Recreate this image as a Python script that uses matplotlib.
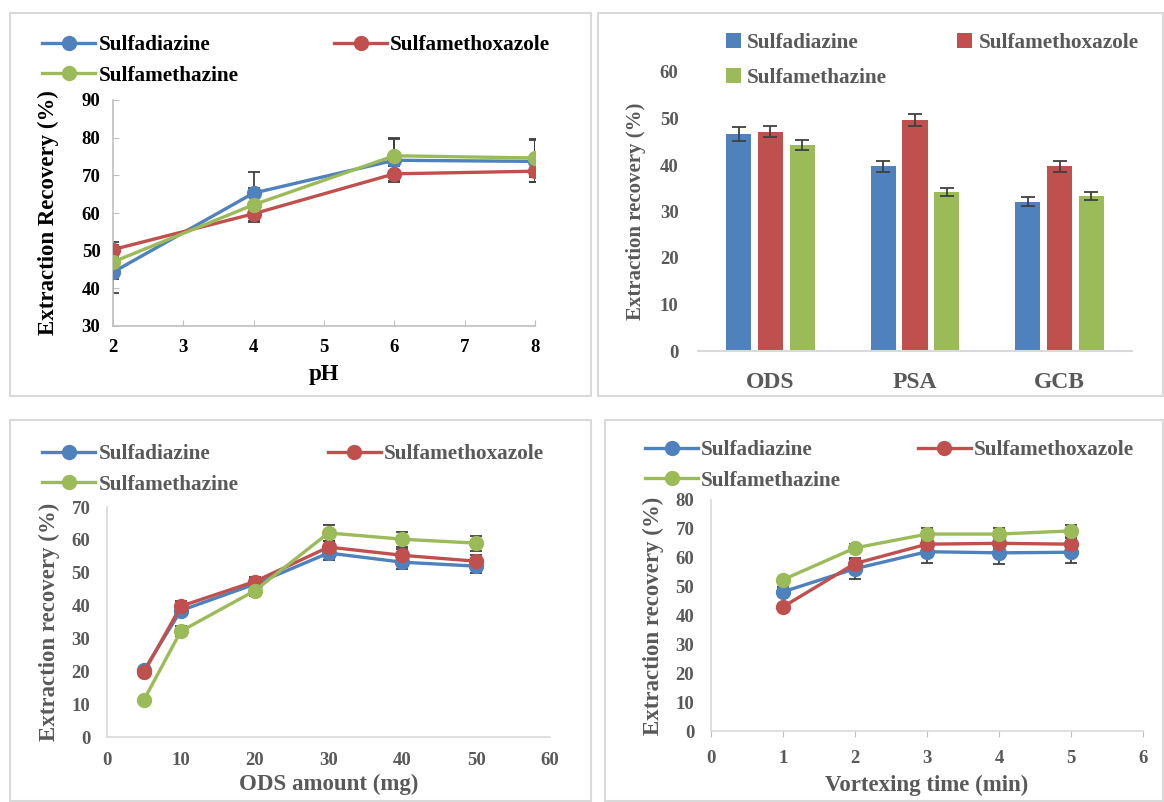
import matplotlib.pyplot as plt
from matplotlib.patches import Rectangle
import numpy as np

# ---- data ----
names = ["Sulfadiazine", "Sulfamethoxazole", "Sulfamethazine"]
colors = ["#4F81BD", "#C0504D", "#9BBB59"]

ph = [2, 4, 6, 8]
ph_sdz = [44.3, 65.3, 74.0, 73.7]
ph_smx = [50.3, 59.8, 70.4, 71.1]
ph_smz = [47.0, 62.2, 75.2, 74.6]
ph_sdz_err = [5.6, 5.7, 5.6, 5.6]
ph_smx_err = [2.0, 2.0, 2.1, 2.9]
ph_smz_err = [4.5, 4.5, 4.6, 5.0]

sorbents = ["ODS", "PSA", "GCB"]
bar_sdz = [46.7, 39.7, 32.1]
bar_smx = [47.2, 49.6, 39.7]
bar_smz = [44.3, 34.2, 33.3]
bar_sdz_err = [1.5, 1.2, 1.0]
bar_smx_err = [1.2, 1.3, 1.1]
bar_smz_err = [1.0, 0.8, 0.8]

ods = [5, 10, 20, 30, 40, 50]
ods_sdz = [20.3, 38.5, 46.5, 56.0, 53.2, 52.0]
ods_smx = [19.7, 39.8, 47.3, 57.8, 55.3, 53.5]
ods_smz = [11.3, 32.2, 44.5, 62.1, 60.2, 59.0]
ods_sdz_err = [1.0, 1.5, 1.5, 2.0, 2.0, 2.0]
ods_smx_err = [1.0, 1.5, 1.5, 2.0, 2.0, 2.0]
ods_smz_err = [1.0, 1.5, 1.5, 2.3, 2.3, 2.3]

vt = [1, 2, 3, 4, 5]
vt_sdz = [48.2, 56.2, 62.1, 61.7, 61.9]
vt_smx = [43.0, 58.0, 64.7, 65.0, 64.7]
vt_smz = [52.4, 63.4, 68.2, 68.2, 69.3]
vt_sdz_err = [1.5, 3.4, 3.8, 3.8, 3.8]
vt_smx_err = [1.0, 2.0, 2.0, 2.0, 2.0]
vt_smz_err = [1.0, 1.5, 2.0, 2.0, 2.0]

W, H = 1164, 802
fig = plt.figure(figsize=(W / 100, H / 100), dpi=100)
plt.rcParams['font.family'] = ['Liberation Serif', 'DejaVu Serif']
plt.rcParams['font.weight'] = 'bold'

LEG_FS = 15.3
TICK_FS = 13.5
LAB_FS = 16.5


def ax_at(left, top, right, bottom):
    """axes from pixel box"""
    return fig.add_axes([left / W, 1 - bottom / H, (right - left) / W, (bottom - top) / H])


def box(x0, y0, x1, y1):
    fig.add_artist(Rectangle((x0 / W, 1 - y1 / H), (x1 - x0) / W, (y1 - y0) / H,
                             transform=fig.transFigure, fill=False,
                             edgecolor="#d9d9d9", linewidth=1.5))


box(10, 13, 591, 396)
box(598, 13, 1163, 396)
box(10, 420, 591, 801)
box(605, 420, 1163, 801)


def line_panel(ax, x, ys, errs, tc):
    handles = []
    for y, e, c in zip(ys, errs, colors):
        ax.errorbar(x, y, yerr=e, fmt="none", ecolor="#404040", elinewidth=1.3,
                    capsize=4, capthick=1.3, zorder=2)
    for y, c, n in zip(ys, colors, names):
        h, = ax.plot(x, y, color=c, lw=2.4, marker="o", ms=10, label=n, zorder=3)
        handles.append(h)
    for s in ["top", "right"]:
        ax.spines[s].set_visible(False)
    for s in ["left", "bottom"]:
        ax.spines[s].set_color("#bfbfbf")
        ax.spines[s].set_linewidth(1.2)
    ax.tick_params(colors="#bfbfbf", labelcolor=tc, labelsize=TICK_FS)
    for lab in ax.get_xticklabels() + ax.get_yticklabels():
        lab.set_fontweight("bold")
    return handles


def add_legend(ax, handles, fx, fy, tc, colsp):
    leg = ax.legend([handles[0], handles[2], handles[1]],
                    [names[0], names[2], names[1]],
                    ncol=2, loc="upper left", bbox_to_anchor=(fx / W, 1 - fy / H),
                    bbox_transform=fig.transFigure, frameon=False,
                    prop={"weight": "bold", "size": LEG_FS}, handlelength=2.5,
                    handletextpad=0.15, columnspacing=colsp, labelspacing=0.5,
                    borderaxespad=0, borderpad=0)
    for t in leg.get_texts():
        t.set_color(tc)


# ---- panel 1: pH ----
ax1 = ax_at(113, 100, 535, 326)
h = line_panel(ax1, ph, [ph_sdz, ph_smx, ph_smz], [ph_sdz_err, ph_smx_err, ph_smz_err], "black")
ax1.set_xlim(2, 8)
ax1.set_ylim(30, 90)
ax1.set_xticks(range(2, 9))
ax1.set_yticks(range(30, 91, 10))
ax1.tick_params(direction="in", length=4, pad=9)
ax1.set_xlabel("pH", fontsize=LAB_FS, fontweight="bold", labelpad=6)
ax1.set_ylabel("Extraction Recovery (%)", fontsize=LAB_FS, fontweight="bold", labelpad=16)
add_legend(ax1, h, 42, 35, "black", 4.5)

# ---- panel 2: bars ----
ax2 = ax_at(698, 72, 1132, 351)
xc = np.arange(len(sorbents))
gray = "#595959"
bw, off = 0.175, 0.22
bh = []
for vals, errs, c, k in zip([bar_sdz, bar_smx, bar_smz], [bar_sdz_err, bar_smx_err, bar_smz_err],
                            colors, [-1, 0, 1]):
    b = ax2.bar(xc + k * off, vals, bw, color=c, yerr=errs,
                error_kw=dict(ecolor="#404040", elinewidth=1.3, capsize=5, capthick=1.3))
    bh.append(b)
ax2.set_xlim(-0.5, 2.5)
ax2.set_ylim(0, 60)
ax2.set_yticks(range(0, 61, 10))
ax2.set_xticks(xc)
ax2.set_xticklabels(sorbents, fontsize=17, fontweight="bold", color=gray)
for s in ["top", "right", "left"]:
    ax2.spines[s].set_visible(False)
ax2.spines["bottom"].set_color("#d9d9d9")
ax2.spines["bottom"].set_linewidth(1.5)
ax2.tick_params(length=0, labelcolor=gray, labelsize=TICK_FS)
ax2.tick_params(axis="x", pad=15, labelsize=17)
ax2.tick_params(axis="y", pad=14)
for lab in ax2.get_yticklabels():
    lab.set_fontweight("bold")
ax2.set_ylabel("Extraction recovery (%)", fontsize=15, fontweight="bold", color=gray, labelpad=10)
leg2 = ax2.legend([bh[0], bh[2], bh[1]], [names[0], names[2], names[1]], ncol=2,
                  loc="upper left", bbox_to_anchor=(726 / W, 1 - 33 / H),
                  bbox_transform=fig.transFigure, frameon=False,
                  prop={"weight": "bold", "size": LEG_FS}, handlelength=0.7, handleheight=0.7,
                  handletextpad=0.3, columnspacing=3.3, labelspacing=0.7,
                  borderaxespad=0, borderpad=0)
for t in leg2.get_texts():
    t.set_color(gray)

# ---- panel 3: ODS amount ----
ax3 = ax_at(107, 507, 550, 737)
h = line_panel(ax3, ods, [ods_sdz, ods_smx, ods_smz], [ods_sdz_err, ods_smx_err, ods_smz_err], gray)
ax3.set_xlim(0, 60)
ax3.set_ylim(0, 70)
ax3.set_xticks(range(0, 61, 10))
ax3.set_yticks(range(0, 71, 10))
ax3.tick_params(axis="x", length=0, pad=11)
ax3.tick_params(axis="y", length=0, pad=12)
ax3.spines["left"].set_color("#d9d9d9")
ax3.spines["bottom"].set_color("#d9d9d9")
ax3.set_xlabel("ODS amount (mg)", fontsize=LAB_FS, fontweight="bold", color=gray, labelpad=3)
ax3.set_ylabel("Extraction recovery (%)", fontsize=LAB_FS, fontweight="bold", color=gray, labelpad=8)
add_legend(ax3, h, 42, 444, gray, 4.2)

# ---- panel 4: vortexing time ----
ax4 = ax_at(711, 500, 1143, 731)
h = line_panel(ax4, vt, [vt_sdz, vt_smx, vt_smz], [vt_sdz_err, vt_smx_err, vt_smz_err], gray)
ax4.set_xlim(0, 6)
ax4.set_ylim(0, 80)
ax4.set_xticks(range(0, 7))
ax4.set_yticks(range(0, 81, 10))
ax4.tick_params(axis="x", direction="out", length=4, pad=10)
ax4.tick_params(axis="y", length=0, pad=12)
ax4.spines["left"].set_color("#d9d9d9")
ax4.spines["bottom"].set_color("#d9d9d9")
ax4.set_xlabel("Vortexing time (min)", fontsize=LAB_FS, fontweight="bold", color=gray, labelpad=5)
ax4.set_ylabel("Extraction recovery (%)", fontsize=LAB_FS, fontweight="bold", color=gray, labelpad=8)
add_legend(ax4, h, 645, 440, gray, 3.6)

fig.savefig("out.png", dpi=100)
